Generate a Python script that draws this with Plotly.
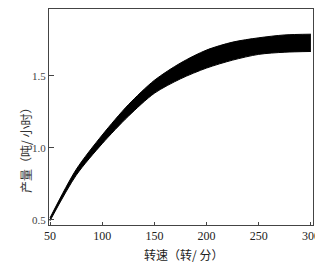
import plotly.graph_objects as go

speed = [50, 75, 100, 125, 150, 175, 200, 225, 250, 275, 300]
output_upper = [0.515, 0.85, 1.09, 1.30, 1.47, 1.59, 1.68, 1.735, 1.765, 1.785, 1.79]
output_lower = [0.495, 0.81, 1.03, 1.22, 1.38, 1.48, 1.555, 1.61, 1.65, 1.665, 1.67]
x_ticks = [50, 100, 150, 200, 250, 300]
y_ticks = [0.5, 1.0, 1.5]
y_tick_text = ["0.5", "1.0", "1.5"]
x_title = "转速（转/ 分）"
y_title = "产量（吨/ 小时）"

fig = go.Figure()
fig.add_trace(go.Scatter(x=speed, y=output_lower, mode="lines",
                         line=dict(color="black", width=1, shape="spline", smoothing=0.8),
                         showlegend=False, hoverinfo="skip"))
fig.add_trace(go.Scatter(x=speed, y=output_upper, mode="lines",
                         line=dict(color="black", width=1, shape="spline", smoothing=0.8),
                         fill="tonexty", fillcolor="black", showlegend=False, hoverinfo="skip"))

fig.update_layout(
    width=315, height=260,
    margin=dict(l=41, r=10, t=1, b=43),
    paper_bgcolor="white", plot_bgcolor="white",
    font=dict(family="Liberation Serif", color="#222"),
)
fig.add_annotation(text=x_title, xref="paper", yref="paper", x=0.51, y=-0.135, yanchor="middle",
                   showarrow=False, font=dict(size=12, family="Noto Sans CJK SC", color="#222"))
fig.add_annotation(text=y_title, xref="paper", yref="paper", x=-0.128, y=0.36, textangle=-90,
                   showarrow=False, font=dict(size=12, family="Noto Sans CJK SC", color="#333"))
fig.update_xaxes(range=[49, 302], tickvals=x_ticks, ticks="inside", ticklen=3, tickcolor="#444",
                 showline=True, linecolor="#444", linewidth=1, mirror=True, showgrid=False, zeroline=False,
                 automargin=False,
                 tickfont=dict(size=12, family="Liberation Serif", color="#222"))
fig.update_yaxes(range=[0.465, 1.965], tickvals=y_ticks, ticktext=y_tick_text, ticks="inside", ticklen=5, tickcolor="#444",
                 showline=True, linecolor="#444", linewidth=1, mirror=True, showgrid=False, zeroline=False,
                 automargin=False,
                 tickfont=dict(size=11, family="Liberation Serif", color="#444"))

fig.write_html("out.html")
